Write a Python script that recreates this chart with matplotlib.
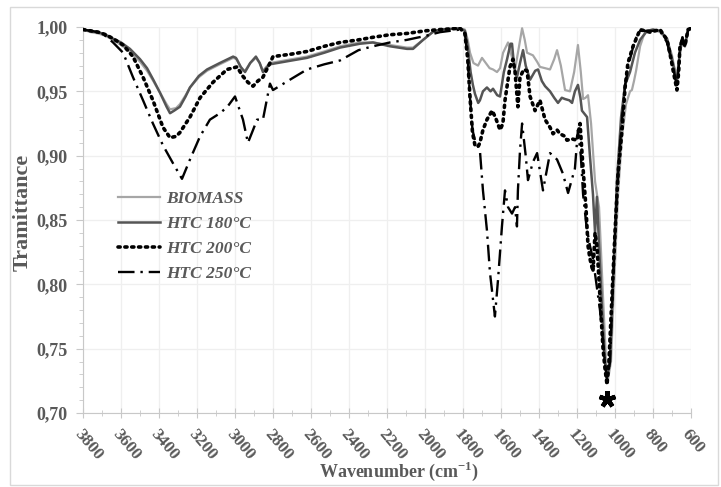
import matplotlib
matplotlib.use("Agg")
import matplotlib.pyplot as plt
from matplotlib.ticker import MultipleLocator, FuncFormatter
from matplotlib.patches import Rectangle

# FTIR spectra: wavenumber (cm-1) and transmittance for each sample
biomass_wn = [3800, 3760, 3720, 3680, 3642, 3600, 3553, 3500, 3463, 3430, 3395, 3360, 3342, 3310,
              3290, 3260, 3237, 3190, 3147, 3080, 3010, 2990, 2960, 2947, 2920, 2890, 2870, 2853,
              2830, 2816, 2700, 2621, 2530, 2447, 2342, 2274, 2184, 2095, 2063, 2010, 1960, 1921,
              1816, 1790, 1775, 1763, 1745, 1721, 1700, 1680, 1660, 1642, 1621, 1605, 1589, 1563,
              1545, 1526, 1505, 1489, 1475, 1463, 1432, 1410, 1395, 1368, 1342, 1320, 1305, 1285,
              1263, 1237, 1215, 1195, 1180, 1168, 1155, 1142, 1126, 1105, 1095, 1084, 1063, 1047,
              1037, 1021, 1005, 984, 963, 942, 921, 911, 900, 889, 868, 850, 832, 800, 763, 726,
              700, 690, 674, 660, 645, 632, 616, 600]
biomass_t = [0.998, 0.996, 0.995, 0.993, 0.990, 0.986, 0.981, 0.973, 0.966, 0.958, 0.949, 0.940,
             0.936, 0.937, 0.940, 0.947, 0.953, 0.961, 0.966, 0.971, 0.976, 0.975, 0.966, 0.966,
             0.972, 0.976, 0.972, 0.966, 0.970, 0.972, 0.975, 0.977, 0.981, 0.985, 0.988, 0.988,
             0.986, 0.984, 0.984, 0.990, 0.996, 0.998, 0.999, 0.998, 0.990, 0.980, 0.972, 0.970,
             0.976, 0.972, 0.968, 0.967, 0.965, 0.968, 0.980, 0.988, 0.978, 0.967, 0.985, 0.999,
             0.990, 0.980, 0.978, 0.973, 0.969, 0.968, 0.967, 0.975, 0.982, 0.970, 0.951, 0.950,
             0.965, 0.986, 0.965, 0.944, 0.945, 0.947, 0.925, 0.880, 0.870, 0.860, 0.790, 0.740,
             0.726, 0.740, 0.800, 0.870, 0.915, 0.940, 0.950, 0.951, 0.958, 0.966, 0.985, 0.993,
             0.997, 0.998, 0.996, 0.990, 0.978, 0.970, 0.962, 0.980, 0.990, 0.985, 0.998, 0.999]

htc180_wn = [3800, 3760, 3720, 3680, 3642, 3600, 3553, 3500, 3463, 3430, 3395, 3360, 3342, 3320,
             3290, 3260, 3237, 3190, 3147, 3080, 3010, 2995, 2970, 2947, 2920, 2890, 2870, 2853,
             2830, 2816, 2700, 2621, 2530, 2447, 2342, 2274, 2184, 2095, 2063, 2010, 1960, 1921,
             1816, 1790, 1775, 1760, 1748, 1737, 1720, 1711, 1695, 1674, 1655, 1642, 1620, 1605,
             1585, 1568, 1550, 1542, 1530, 1516, 1500, 1484, 1470, 1447, 1420, 1405, 1385, 1368,
             1342, 1320, 1300, 1280, 1263, 1240, 1226, 1211, 1195, 1182, 1174, 1147, 1132, 1116,
             1105, 1095, 1084, 1068, 1053, 1042, 1026, 1011, 990, 968, 947, 921, 895, 868, 832,
             800, 763, 726, 700, 685, 674, 660, 645, 632, 616, 600]
htc180_t = [0.998, 0.997, 0.996, 0.994, 0.991, 0.988, 0.983, 0.975, 0.968, 0.959, 0.949, 0.938,
            0.933, 0.935, 0.938, 0.946, 0.953, 0.962, 0.967, 0.972, 0.977, 0.976, 0.969, 0.965,
            0.972, 0.977, 0.972, 0.965, 0.969, 0.971, 0.974, 0.976, 0.980, 0.984, 0.987, 0.988,
            0.985, 0.983, 0.983, 0.990, 0.996, 0.998, 0.999, 0.997, 0.985, 0.965, 0.955, 0.948,
            0.941, 0.943, 0.950, 0.953, 0.950, 0.952, 0.947, 0.946, 0.965, 0.975, 0.987, 0.987,
            0.968, 0.961, 0.972, 0.982, 0.970, 0.959, 0.966, 0.967, 0.958, 0.954, 0.950, 0.945,
            0.941, 0.945, 0.944, 0.943, 0.941, 0.950, 0.955, 0.945, 0.935, 0.930, 0.900, 0.870,
            0.840, 0.868, 0.830, 0.780, 0.740, 0.727, 0.740, 0.800, 0.880, 0.930, 0.955, 0.965,
            0.980, 0.990, 0.997, 0.998, 0.997, 0.991, 0.975, 0.965, 0.958, 0.978, 0.992, 0.985,
            0.998, 0.999]

htc200_wn = [3800, 3760, 3720, 3680, 3642, 3589, 3537, 3484, 3432, 3379, 3342, 3310, 3290, 3237,
             3184, 3116, 3042, 2989, 2960, 2932, 2905, 2880, 2853, 2816, 2800, 2700, 2621, 2530,
             2447, 2350, 2274, 2184, 2095, 2000, 1921, 1816, 1790, 1775, 1763, 1750, 1737, 1721,
             1711, 1695, 1674, 1647, 1630, 1605, 1590, 1579, 1553, 1537, 1526, 1511, 1500, 1480,
             1463, 1447, 1421, 1395, 1368, 1342, 1326, 1305, 1290, 1263, 1253, 1226, 1200, 1184,
             1168, 1153, 1142, 1132, 1116, 1105, 1095, 1079, 1063, 1053, 1042, 1032, 1016, 1000,
             984, 963, 947, 932, 905, 868, 816, 763, 726, 705, 695, 674, 665, 658, 645, 632, 616,
             600]
htc200_t = [0.998, 0.997, 0.996, 0.994, 0.991, 0.986, 0.977, 0.961, 0.943, 0.922, 0.914, 0.915,
            0.918, 0.930, 0.945, 0.957, 0.967, 0.969, 0.962, 0.957, 0.954, 0.958, 0.961, 0.972,
            0.977, 0.979, 0.981, 0.985, 0.988, 0.990, 0.992, 0.994, 0.995, 0.997, 0.998, 0.999,
            0.995, 0.975, 0.945, 0.918, 0.908, 0.907, 0.910, 0.920, 0.928, 0.935, 0.930, 0.920,
            0.925, 0.943, 0.969, 0.975, 0.965, 0.938, 0.961, 0.967, 0.966, 0.946, 0.935, 0.943,
            0.928, 0.922, 0.917, 0.920, 0.917, 0.915, 0.912, 0.913, 0.912, 0.925, 0.890, 0.860,
            0.830, 0.820, 0.810, 0.840, 0.830, 0.790, 0.750, 0.735, 0.722, 0.740, 0.790, 0.840,
            0.886, 0.920, 0.953, 0.972, 0.985, 0.998, 0.996, 0.998, 0.990, 0.975, 0.967, 0.951,
            0.965, 0.985, 0.990, 0.985, 0.998, 0.999]

htc250_wn = [3800, 3760, 3720, 3680, 3642, 3589, 3537, 3484, 3432, 3379, 3326, 3279, 3237, 3184,
             3132, 3079, 3040, 3000, 2958, 2932, 2905, 2884, 2853, 2816, 2800, 2700, 2621, 2530,
             2447, 2350, 2274, 2184, 2095, 2000, 1921, 1816, 1790, 1775, 1763, 1750, 1737, 1711,
             1695, 1674, 1658, 1632, 1616, 1595, 1579, 1563, 1542, 1526, 1516, 1511, 1500, 1489,
             1470, 1458, 1432, 1410, 1379, 1342, 1305, 1274, 1247, 1211, 1195, 1180, 1168, 1150,
             1132, 1116, 1079, 1053, 1042, 1026, 1011, 990, 968, 947, 921, 895, 868, 816, 763,
             726, 700, 685, 674, 665, 658, 645, 632, 616, 600]
htc250_t = [0.998, 0.997, 0.996, 0.993, 0.988, 0.980, 0.961, 0.943, 0.925, 0.908, 0.894, 0.882,
            0.897, 0.915, 0.928, 0.933, 0.938, 0.946, 0.928, 0.910, 0.920, 0.928, 0.928, 0.956,
            0.951, 0.960, 0.967, 0.971, 0.974, 0.982, 0.985, 0.988, 0.990, 0.993, 0.996, 0.998,
            0.995, 0.975, 0.945, 0.920, 0.912, 0.904, 0.873, 0.842, 0.809, 0.775, 0.803, 0.845,
            0.873, 0.860, 0.855, 0.860, 0.845, 0.873, 0.904, 0.925, 0.900, 0.881, 0.895, 0.902,
            0.873, 0.902, 0.897, 0.886, 0.871, 0.890, 0.920, 0.900, 0.870, 0.845, 0.830, 0.820,
            0.780, 0.740, 0.725, 0.740, 0.800, 0.870, 0.920, 0.955, 0.975, 0.990, 0.997, 0.997,
            0.997, 0.988, 0.972, 0.962, 0.953, 0.968, 0.985, 0.992, 0.984, 0.997, 0.999]

star_wn, star_t = 1040, 0.711

plt.rcParams['font.family'] = 'Liberation Serif'
plt.rcParams['mathtext.fontset'] = 'custom'
plt.rcParams['mathtext.rm'] = 'Liberation Serif:bold'
plt.rcParams['mathtext.bf'] = 'Liberation Serif:bold'

txt = '#595959'
fig = plt.figure(figsize=(7.21, 4.87), dpi=100)
fig.patches.append(Rectangle((10 / 721, 2 / 487), 708 / 721, 478 / 487, transform=fig.transFigure,
                             fill=False, edgecolor='#d9d9d9', lw=1))
ax = fig.add_axes([83 / 721, 74 / 487, 608 / 721, 386 / 487])

ax.plot(biomass_wn, biomass_t, color='#a6a6a6', lw=1.6, label='BIOMASS', zorder=3)
ax.plot(htc180_wn, htc180_t, color='#555555', lw=1.8, label='HTC 180°C', zorder=4)
ax.plot(htc200_wn, htc200_t, color='black', lw=2.6, linestyle=(0, (0.6, 1.3)),
        dash_capstyle='round', label='HTC 200°C', zorder=5)
ax.plot(htc250_wn, htc250_t, color='black', lw=1.7, linestyle=(0, (7, 2.5, 1, 2.5)),
        label='HTC 250°C', zorder=5)
ax.plot(star_wn, star_t, marker=(5, 2, 0), color='black', ms=12, mew=3.2, zorder=6)

ax.set_xlim(3800, 600)
ax.set_ylim(0.70, 1.00)
ax.xaxis.set_major_locator(MultipleLocator(200))
ax.xaxis.set_minor_locator(MultipleLocator(100))
ax.yaxis.set_major_locator(MultipleLocator(0.05))
ax.yaxis.set_minor_locator(MultipleLocator(0.01))
ax.yaxis.set_major_formatter(FuncFormatter(lambda v, p: f'{v:.2f}'.replace('.', ',')))
ax.grid(True, which='major', color='#efefef', lw=0.9)
ax.set_axisbelow(True)

for s in ['top', 'right']:
    ax.spines[s].set_visible(False)
for s in ['left', 'bottom']:
    ax.spines[s].set_color('#c8c8c8')

ax.tick_params(axis='y', which='both', direction='out', color='#c8c8c8', labelcolor=txt)
ax.tick_params(axis='y', which='major', length=5, labelsize=13, pad=6)
ax.tick_params(axis='y', which='minor', length=3)
ax.tick_params(axis='x', which='both', direction='inout', color='#c8c8c8', labelcolor=txt)
ax.tick_params(axis='x', which='major', length=7, labelsize=12.5, pad=6)
ax.tick_params(axis='x', which='minor', length=5)
for lb in ax.get_yticklabels():
    lb.set_fontweight('bold')
for lb in ax.get_xticklabels():
    lb.set_fontweight('bold')
    lb.set_rotation(-50)
    lb.set_ha('left')
    lb.set_va('top')
    lb.set_rotation_mode('anchor')

ax.set_ylabel('Tramittance', fontsize=16, fontweight='bold', color=txt)
ax.yaxis.set_label_coords(-0.082, 0.52)
ax.set_xlabel('Wavenumber (cm$^{-1}$)', fontsize=13, fontweight='bold', color=txt)
ax.xaxis.set_label_coords(0.52, -0.122)

leg = ax.legend(loc='upper left', bbox_to_anchor=(0.0576, 0.575), frameon=False,
                borderpad=0, borderaxespad=0, handlelength=2.4, handletextpad=0.35,
                labelspacing=0.5, prop={'size': 12.5, 'weight': 'bold', 'style': 'italic'})
for t in leg.get_texts():
    t.set_color(txt)

fig.savefig('out.png', dpi=100)
